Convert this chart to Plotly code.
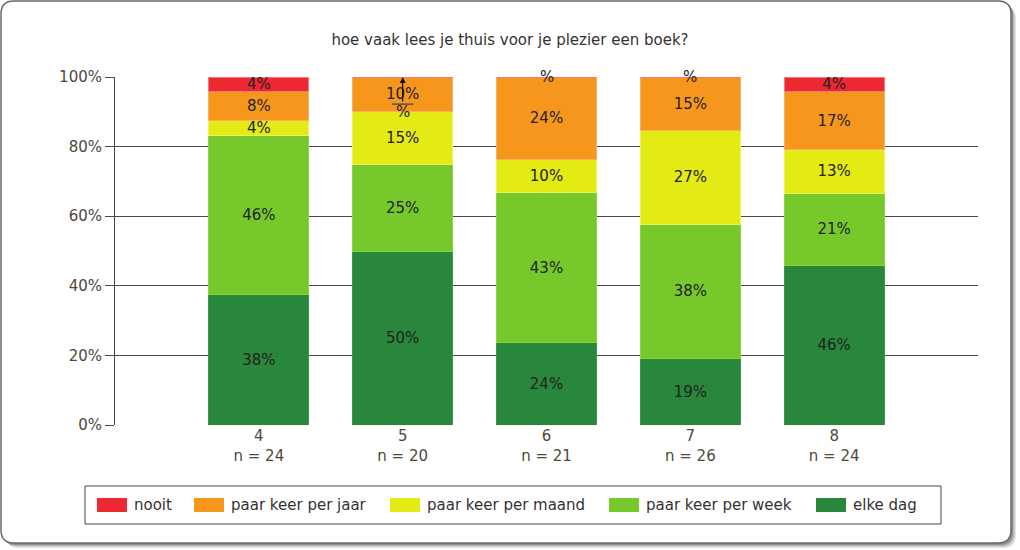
import plotly.graph_objects as go

# ---- data ----
groups = ["4", "5", "6", "7", "8"]
n_values = [24, 20, 21, 26, 24]
series_names = ["elke dag", "paar keer per week", "paar keer per maand", "paar keer per jaar", "nooit"]
elke_dag = [37.50, 50.00, 23.81, 19.23, 45.83]
per_week = [45.83, 25.00, 42.86, 38.46, 20.83]
per_maand = [4.17, 15.00, 9.52, 26.92, 12.50]
per_jaar = [8.33, 10.00, 23.81, 15.38, 16.67]
nooit = [4.17, 0.0, 0.0, 0.0, 4.17]
colors = ["#29873B", "#77C82A", "#E4EB14", "#F7961D", "#EE2830"]
edge_colors = ["#3A9A4A", "#8BD444", "#EEF260", "#FAB060", "#F57A80"]

values = [elke_dag, per_week, per_maand, per_jaar, nooit]

W, H = 1020, 550
L, R, T, B = 115, 978, 77, 425

positions = list(range(1, len(groups) + 1))
font_family = "DejaVu Sans, Verdana, sans-serif"
FS = 15


def pct_label(v):
    return f"{int(v + 0.5)}%" if v > 0 else ""


fig = go.Figure()
for name, vals, col, ecol in zip(series_names, values, colors, edge_colors):
    fig.add_trace(go.Bar(
        x=positions, y=vals, name=name,
        marker=dict(color=col, line=dict(color=ecol, width=1)),
        width=0.695,
        text=[pct_label(v) for v in vals],
        textposition="inside", insidetextanchor="middle", textangle=0,
        textfont=dict(size=FS, color="#222222", family=font_family),
        hoverinfo="skip", showlegend=False,
    ))

# zero-value labels ("%") at the top of bars
for i, v in enumerate(nooit):
    if v == 0 and i != 1:
        fig.add_annotation(x=positions[i], y=100, text="%", showarrow=False,
                           yanchor="middle", font=dict(size=FS, color="#222", family=font_family))
# displaced zero label with leader arrow for group 5
fig.add_annotation(x=positions[1], y=100, text="%", showarrow=True, arrowhead=2,
                   arrowsize=1, arrowwidth=1.2, arrowcolor="#111", ax=0, ay=35,
                   font=dict(size=FS, color="#222", family=font_family))
fig.add_shape(type="line", xref="x", yref="y", x0=positions[1] - 0.075, x1=positions[1] + 0.075,
              y0=92.2, y1=92.2, line=dict(color="#555", width=1.5))


def px2paper(px, py):
    return (px - L) / (R - L), (B - py) / (B - T)


def rounded_path(x0, y0, x1, y1, r):
    def P(x, y):
        a, b = px2paper(x, y)
        return f"{a:.5f},{b:.5f}"
    return (f"M {P(x0 + r, y0)} L {P(x1 - r, y0)} Q {P(x1, y0)} {P(x1, y0 + r)} "
            f"L {P(x1, y1 - r)} Q {P(x1, y1)} {P(x1 - r, y1)} L {P(x0 + r, y1)} "
            f"Q {P(x0, y1)} {P(x0, y1 - r)} L {P(x0, y0 + r)} Q {P(x0, y0)} {P(x0 + r, y0)} Z")

# frame shadow (soft) + frame
for off, col in [(5, "#e4e4e4"), (4, "#cfcfcf"), (3, "#b4b4b4"), (2, "#8f8f8f")]:
    fig.add_shape(type="path", xref="paper", yref="paper", layer="below",
                  path=rounded_path(1 + off, 1 + off, 1011 + off, 543 + off, 13),
                  fillcolor=col, line=dict(width=0))
fig.add_shape(type="path", xref="paper", yref="paper", layer="below",
              path=rounded_path(1, 1, 1011, 543, 13), fillcolor="white",
              line=dict(color="#6a6a66", width=1.5))

# custom legend (wide swatches as in the reference)
legend_order = ["nooit", "paar keer per jaar", "paar keer per maand", "paar keer per week", "elke dag"]
legend_x = [97, 194, 390, 609, 816]
color_of = dict(zip(series_names, colors))
bx0, by0 = px2paper(85, 486)
bx1, by1 = px2paper(941, 524)
fig.add_shape(type="rect", xref="paper", yref="paper", x0=bx0, y0=by0, x1=bx1, y1=by1,
              line=dict(color="#444", width=1), fillcolor="white", layer="above")
for name, sx in zip(legend_order, legend_x):
    ax0, ay0 = px2paper(sx, 498)
    ax1, ay1 = px2paper(sx + 30, 512)
    fig.add_shape(type="rect", xref="paper", yref="paper", x0=ax0, y0=ay0, x1=ax1, y1=ay1,
                  line=dict(width=0), fillcolor=color_of[name], layer="above")
    tx, ty = px2paper(sx + 35, 505)
    fig.add_annotation(xref="paper", yref="paper", x=tx, y=ty, text=name, showarrow=False,
                       xanchor="left", yanchor="middle",
                       font=dict(size=FS, color="#333", family=font_family))

fig.update_layout(
    width=W, height=H,
    margin=dict(l=L, r=W - R, t=T, b=H - B, pad=0),
    paper_bgcolor="white", plot_bgcolor="rgba(0,0,0,0)",
    barmode="stack",
    uniformtext=dict(minsize=FS, mode="show"),
    font=dict(family=font_family, size=FS, color="#444"),
    title=dict(text="hoe vaak lees je thuis voor je plezier een boek?", x=0.5, xref="container",
               y=1 - 40 / H, yref="container", xanchor="center", yanchor="middle",
               font=dict(size=FS, color="#333", family=font_family)),
    xaxis=dict(range=[0, 6], tickvals=positions,
               ticktext=[f"{g}<br>n = {n}" for g, n in zip(groups, n_values)],
               showgrid=False, zeroline=False, showline=False, ticks="",
               tickfont=dict(size=FS, color="#4a4a40"), fixedrange=True),
    yaxis=dict(range=[0, 100], tickvals=[0, 20, 40, 60, 80, 100],
               ticktext=["0%", "20%", "40%", "60%", "80%", "100%"],
               showgrid=True, gridcolor="#4a4a44", gridwidth=1,
               zeroline=False, showline=True, linecolor="#4a4a44", linewidth=1,
               ticks="outside", ticklen=9, tickcolor="#4a4a44",
               tickfont=dict(size=FS, color="#4a4a40"), fixedrange=True),
    showlegend=False,
)

fig.write_html("out.html", config={"displayModeBar": False},
               post_script="document.body.style.margin='0px';")
